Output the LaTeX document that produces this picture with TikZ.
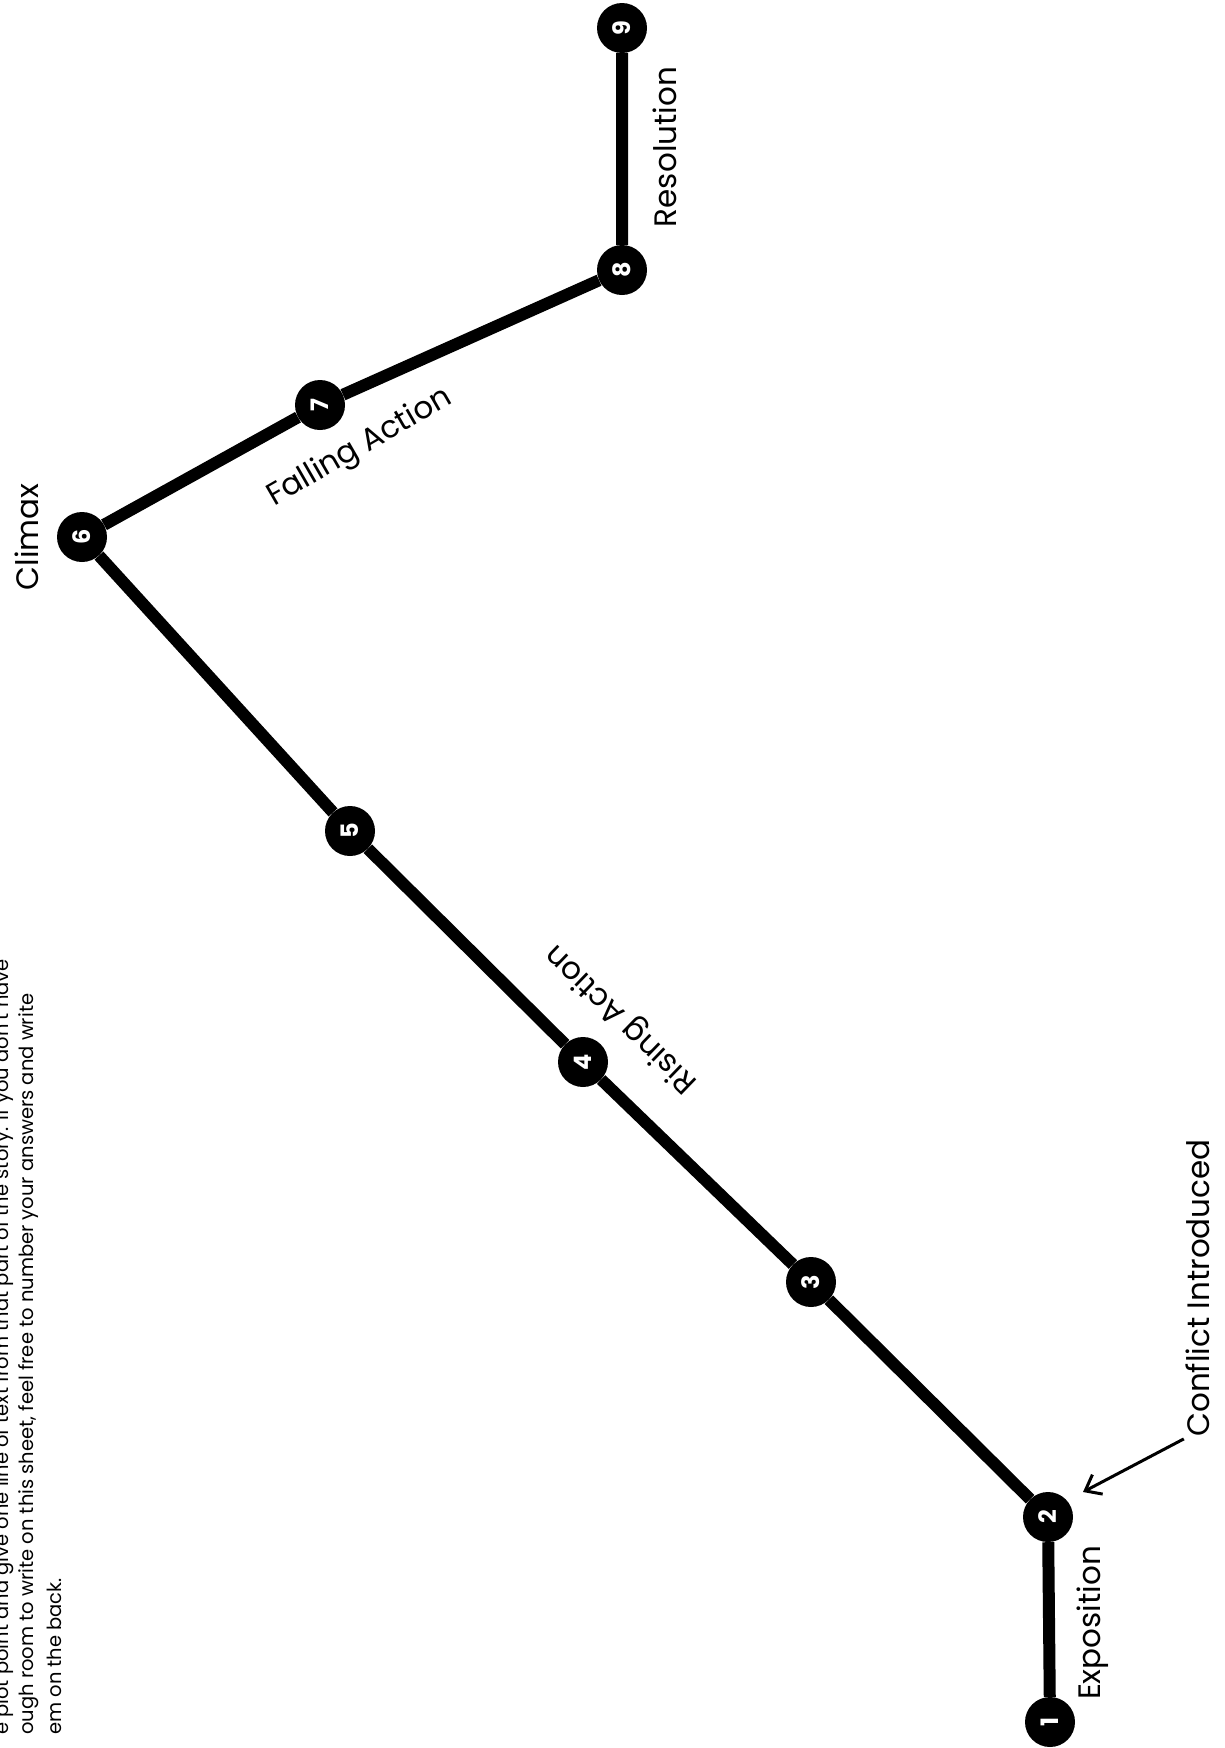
\documentclass[tikz,border=0pt]{standalone}
\usepackage{fontspec}
\setmainfont{Poppins}
\usetikzlibrary{arrows.meta}

\begin{document}
\begin{tikzpicture}[x=1pt, y=-1pt, main_node/.style={circle,fill=black,minimum size=50pt,inner sep=0pt,text=white,font=\fontsize{24}{24}\selectfont\bfseries,rotate=90}, plot_line/.style={line width=12pt}, stage/.style={font=\fontsize{31}{31}\selectfont,inner sep=2pt}, note/.style={font=\fontsize{19.5}{19.5}\selectfont,anchor=west,rotate=90,inner sep=0pt}]
				\useasboundingbox (0,0) rectangle (1224,1748);
				\clip (0,0) rectangle (1224,1748);
				\node[note](line1) at (4,1735){e plot point and give one line of text from that part of the story. If you don't have};
				\node[note](line2) at (29,1735){ough room to write on this sheet, feel free to number your answers and write};
				\node[note](line3) at (54,1735){em on the back.};
				\node[main_node](1) at (1050,1722){1};
				\node[main_node](2) at (1048,1517){2};
				\node[main_node](3) at (811,1282){3};
				\node[main_node](4) at (583,1062){4};
				\node[main_node](5) at (350,831){5};
				\node[main_node](6) at (82,537){6};
				\node[main_node](7) at (320,405){7};
				\node[main_node](8) at (622,270){8};
				\node[main_node](9) at (622,28){9};
				\draw[plot_line](1) -- (2) -- (3) -- (4) -- (5) -- (6) -- (7) -- (8) -- (9);
				\node[stage, rotate=90](climax) at (27,537){Climax};
				\node[stage, rotate=30](falling) at (360,448){Falling Action};
				\node[stage, rotate=136](rising) at (622,1018){Rising Action};
				\node[stage, rotate=90](resolution) at (665,147){Resolution};
				\node[stage, rotate=90](exposition) at (1093,1623){Exposition};
				\node[stage, rotate=90](conflict) at (1198,1288){Conflict Introduced};
				\coordinate (tip) at (1083,1492);
				\draw[line width=3pt, -{Straight Barb[length=14pt,width=22pt]}](conflict.north west) -- (tip);
			\end{tikzpicture}
\end{document}
